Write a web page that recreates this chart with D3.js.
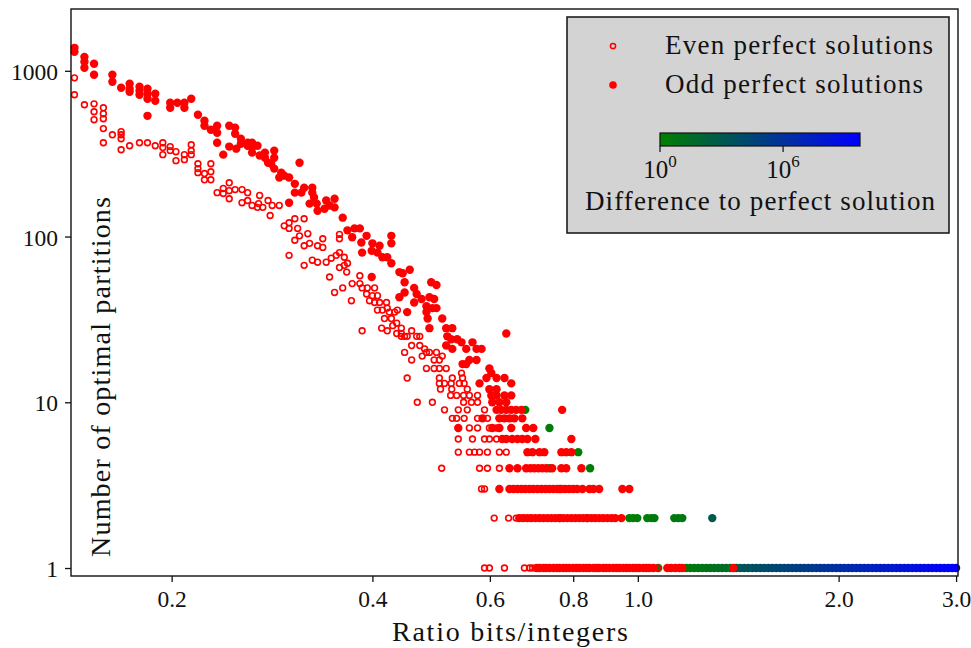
<!DOCTYPE html>
<html lang="en">
<head>
    <meta charset="UTF-8">
    <title>Optimal partitions</title>
    <script src="https://cdnjs.cloudflare.com/ajax/libs/d3/7.8.5/d3.min.js"></script>
    <style>
        body { margin: 0; background: #fff; }
        text { font-family: "Liberation Serif", "DejaVu Serif", serif; fill: #111; }
    </style>
</head>
<body>
    <svg width="971" height="648" id="mainsvg"></svg>
    <script>
        // ---- data ----
        const xTicks = [0.2, 0.4, 0.6, 0.8, 1.0, 2.0, 3.0];
        const yTicks = [1, 10, 100, 1000];
        const cbTicks = [1, 1e6];
        const colorMax = 5.6e9;

        // even perfect solutions: [ratio, count]
        const evenPts = [
            [0.143,907],[0.143,717],[0.148,624],[0.153,632],[0.153,566],[0.153,507],[0.158,598],[0.158,551],
            [0.158,514],[0.158,448],[0.158,368],[0.163,411],[0.168,429],[0.168,411],[0.168,389],[0.168,334],
            [0.173,353],[0.179,368],[0.184,368],[0.189,353],[0.194,368],[0.194,344],[0.194,312],[0.199,349],
            [0.199,330],[0.203,325],[0.203,287],[0.209,312],[0.209,291],[0.214,358],[0.214,330],[0.214,312],
            [0.219,275],[0.219,257],[0.219,243],[0.224,240],[0.224,220],[0.229,275],[0.229,246],[0.229,220],
            [0.234,184],[0.239,195],[0.239,182],[0.244,211],[0.244,189],[0.244,169],[0.249,192],[0.255,192],
            [0.260,184],[0.260,165],[0.271,177],[0.255,160],[0.279,165],[0.270,158],[0.264,154],[0.269,150],
            [0.274,150],[0.283,154],[0.290,154],[0.281,134],[0.295,116],[0.300,121],[0.306,128],[0.300,112],
            [0.309,112],[0.306,95],[0.316,128],[0.311,101],[0.320,104],[0.316,88],[0.322,91],[0.331,88],
            [0.337,97],[0.337,86],[0.300,77],[0.316,67],[0.325,72],[0.331,70],[0.341,70],[0.347,74],
            [0.353,77],[0.357,80],[0.363,75],[0.357,65],[0.363,67],[0.367,69],[0.366,61],[0.357,103],
            [0.357,97],[0.345,57],[0.383,58],[0.351,46],[0.361,49],[0.372,41],[0.373,52],[0.383,52],
            [0.386,49],[0.393,49],[0.403,49],[0.392,45],[0.400,44],[0.407,44],[0.396,41],[0.403,40],
            [0.410,40],[0.420,40],[0.421,37],[0.414,36],[0.424,35],[0.432,35],[0.436,36],[0.407,36],
            [0.417,32],[0.427,32],[0.435,30],[0.429,29],[0.442,28],[0.386,27],[0.413,28],[0.421,27],
            [0.435,26],[0.442,26],[0.442,25],[0.447,25],[0.458,27],[0.451,25],[0.466,25],[0.471,25],
            [0.458,22],[0.471,22],[0.479,21],[0.475,19],[0.482,20],[0.487,20],[0.499,20],[0.495,18],
            [0.504,18],[0.509,19],[0.447,20],[0.458,18],[0.451,14],[0.482,16],[0.495,16],[0.504,16],
            [0.516,16],[0.504,14],[0.527,14],[0.544,15],[0.546,14],[0.504,13],[0.513,13],[0.525,13],
            [0.540,13],[0.549,13],
            [0.506,12],[0.526,12],[0.555,12],
            [0.524,11],[0.535,11],[0.548,11],[0.559,11],[0.575,11],
            [0.467,10],[0.492,10],[0.548,10],[0.563,10],[0.575,10],
            [0.513,9],[0.538,9],[0.555,9],[0.589,9],
            [0.527,8],[0.535,8],[0.549,8],[0.575,8],[0.595,8],
            [0.559,7],[0.575,7],[0.599,7],[0.614,7],
            [0.538,6],[0.565,6],[0.589,6],[0.599,6],[0.614,6],
            [0.538,5],[0.559,5],[0.569,5],[0.579,5],[0.595,5],[0.620,5],[0.635,5],
            [0.508,4],[0.579,4],[0.595,4],[0.620,4],
            [0.583,3],[0.589,3],
            [0.609,2],[0.640,2],[0.657,2],[0.666,2],[0.676,2],[0.690,2],[0.712,2],
            [0.589,1],[0.599,1],[0.631,1],[0.676,1],[0.688,1],[0.695,1],[0.724,1],[0.752,1],[1.070,1]
        ];

        // odd perfect solutions: [ratio, count]
        const oddPts = [
            [0.143,1376],[0.143,1301],[0.148,1214],[0.148,1133],[0.148,1042],[0.153,1102],[0.153,946],[0.163,946],
            [0.163,859],[0.168,790],[0.173,835],[0.173,779],[0.173,747],[0.179,801],[0.179,758],[0.179,717],
            [0.184,779],[0.184,727],[0.184,678],[0.189,727],[0.189,660],[0.184,535],[0.199,641],[0.199,598],
            [0.204,641],[0.209,641],[0.209,598],[0.214,678],[0.219,543],[0.224,500],[0.224,466],[0.229,441],
            [0.234,466],[0.234,423],[0.234,368],[0.239,312],[0.244,466],[0.249,454],[0.249,417],[0.244,349],
            [0.250,339],[0.254,389],[0.254,363],[0.260,368],[0.260,353],[0.264,368],[0.264,344],[0.269,353],
            [0.264,321],[0.271,308],[0.276,321],[0.276,299],[0.279,279],[0.285,330],[0.285,299],[0.282,275],
            [0.311,279],[0.285,257],[0.292,243],[0.295,233],[0.290,227],[0.300,227],[0.306,208],[0.306,184],
            [0.316,197],[0.313,184],[0.325,197],[0.325,184],[0.300,160],[0.327,172],[0.330,158],[0.322,158],
            [0.341,165],[0.345,154],[0.351,169],[0.351,150],[0.331,143],[0.339,147],[0.361,130],[0.367,109],
            [0.376,112],[0.383,112],[0.373,99],[0.385,92],[0.392,101],[0.400,91],[0.410,88],[0.427,101],
            [0.427,91],[0.386,80],[0.399,82],[0.407,80],[0.414,75],[0.421,75],[0.427,69],[0.439,61],
            [0.444,60],[0.455,63],[0.399,57],[0.447,53],[0.462,49],[0.490,53],[0.499,51],[0.447,46],
            [0.439,43],[0.466,45],[0.474,42],[0.462,40],[0.487,43],[0.495,42],[0.482,38],[0.492,37],
            [0.499,37],[0.451,35],[0.482,35],[0.484,32],[0.509,32],[0.487,28],[0.516,28],[0.527,28],
            [0.518,25],[0.525,24],[0.536,24],[0.544,23],[0.516,22],[0.527,21],[0.553,21],[0.565,23],
            [0.573,21],[0.583,21],[0.559,18],[0.573,18],[0.546,17],[0.553,17],[0.599,16],[0.603,15],
            [0.593,14],[0.614,14],[0.579,13],[0.599,12],[0.614,12],[0.631,14],[0.646,13],[0.635,26],
            [0.603,11],[0.614,11],[0.631,11],[0.646,11],
            [0.605,10],[0.620,10],[0.635,10],
            [0.614,9],[0.624,9],[0.635,9],[0.646,9],[0.657,9],[0.669,9],[0.770,9],
            [0.585,8],[0.620,8],[0.631,8],[0.642,8],[0.653,8],[0.671,8],
            [0.538,7],[0.605,7],[0.620,7],[0.646,7],[0.680,7],[0.697,7],
            [0.626,6],[0.635,6],[0.648,6],[0.660,6],[0.671,6],[0.683,6],[0.702,6],[0.795,6],
            [0.683,5],[0.695,5],[0.712,5],[0.724,5],[0.768,5],[0.781,5],[0.795,5],
            [0.642,4],[0.660,4],[0.680,4],[0.690,4],[0.699,4],[0.709,4],[0.719,4],[0.729,4],[0.744,4],
            [0.768,4],[0.781,4],[0.823,4],
            [0.620,3],[0.642,3],[0.651,3],[0.660,3],[0.669,3],[0.678,3],[0.688,3],[0.697,3],[0.707,3],
            [0.717,3],[0.727,3],[0.737,3],[0.747,3],[0.757,3],[0.768,3],[0.778,3],[0.789,3],[0.800,3],
            [0.811,3],[0.826,3],[0.846,3],[0.858,3],[0.875,3],[0.948,3],[0.971,3],
            [0.664,2],[0.673,2],[0.683,2],[0.692,2],[0.702,2],[0.712,2],[0.722,2],[0.732,2],[0.742,2],
            [0.752,2],[0.763,2],[0.773,2],[0.784,2],[0.795,2],[0.806,2],[0.817,2],[0.828,2],[0.840,2],
            [0.852,2],[0.863,2],[0.875,2],[0.887,2],[0.900,2],[0.913,2],[0.925,2],[0.945,2],
            [0.705,1],[0.712,1],[0.722,1],[0.729,1],[0.737,1],[0.747,1],[0.756,1],[0.763,1],[0.773,1],
            [0.781,1],[0.789,1],[0.800,1],[0.809,1],[0.817,1],[0.828,1],[0.837,1],[0.846,1],[0.858,1],
            [0.867,1],[0.875,1],[0.887,1],[0.896,1],[0.906,1],[0.919,1],[0.929,1],[0.938,1],[0.951,1],
            [0.961,1],[0.971,1],[0.984,1],[0.995,1],[1.005,1],[1.019,1],[1.030,1],[1.041,1],[1.055,1],
            [1.107,1],[1.122,1],[1.138,1],[1.154,1],[1.166,1],[1.390,1]
        ];

        // odd, not perfect: [ratio, count, difference to perfect solution]
        const offPts = [
            [0.678,9,1],[0.737,7,2],[0.814,5,1],[0.737,4,1],[0.848,4,2],[0.763,3,1],
            [0.763,2,1],[0.840,2,1],[0.971,2,1],[0.984,2,1],[0.998,2,2],[1.033,2,2],[1.048,2,2],
            [1.059,2,3],[1.134,2,3],[1.150,2,4],[1.166,2,4],[1.293,2,1000],
            [1.073,1,1],[1.182,1,2],[1.198,1,3],[1.215,1,4],[1.232,1,5],[1.249,1,6],[1.267,1,8],
            [1.284,1,10],[1.302,1,12],[1.320,1,15],[1.338,1,20],[1.357,1,25],[1.376,1,30],
            [1.405,1,1.3e3],[1.424,1,1.7e3],[1.444,1,2.2e3],[1.464,1,2.9e3],[1.485,1,3.8e3],[1.505,1,5.1e3],
            [1.526,1,6.8e3],[1.547,1,8.9e3],[1.569,1,1.2e4],[1.591,1,1.5e4],[1.613,1,2.0e4],[1.635,1,2.7e4],
            [1.658,1,3.6e4],[1.681,1,4.7e4],[1.704,1,6.2e4],[1.728,1,8.3e4],[1.752,1,1.1e5],[1.776,1,1.4e5],
            [1.801,1,1.9e5],[1.826,1,2.5e5],[1.852,1,3.3e5],[1.877,1,4.4e5],[1.903,1,5.8e5],[1.930,1,7.6e5],
            [1.957,1,1.0e6],[1.984,1,1.3e6],[2.011,1,1.8e6],[2.039,1,2.3e6],[2.068,1,3.1e6],[2.096,1,4.1e6],
            [2.125,1,5.4e6],[2.155,1,7.1e6],[2.185,1,9.4e6],[2.216,1,1.2e7],[2.247,1,1.6e7],[2.278,1,2.2e7],
            [2.309,1,2.9e7],[2.341,1,3.8e7],[2.374,1,5.0e7],[2.407,1,6.6e7],[2.441,1,8.7e7],[2.474,1,1.1e8],
            [2.509,1,1.5e8],[2.544,1,2.0e8],[2.579,1,2.6e8],[2.615,1,3.5e8],[2.651,1,4.7e8],[2.688,1,6.1e8],
            [2.726,1,8.1e8],[2.764,1,1.1e9],[2.802,1,1.4e9],[2.840,1,1.9e9],[2.880,1,2.5e9],[2.920,1,3.2e9],
            [2.960,1,4.3e9],[3.000,1,5.6e9]
        ];

        // ---- layout ----
        const svg = d3.select('#mainsvg');
        const width = +svg.attr('width');
        const height = +svg.attr('height');
        const margin = { top: 9, right: 13, bottom: 72, left: 71 };
        const innerWidth = width - margin.left - margin.right;
        const innerHeight = height - margin.top - margin.bottom;
        const g = svg.append('g')
            .attr('transform', `translate(${margin.left},${margin.top})`);

        const x = d3.scaleLog().domain([0.1413, 3.02]).range([0, innerWidth]);
        const y = d3.scaleLog().domain([0.895, 2360]).range([innerHeight, 0]);
        const color = d3.scaleLog().domain([1, colorMax])
            .range(['#008000', '#0000ff']).interpolate(d3.interpolateRgb);

        const RED = '#ff0000';

        // ---- points ----
        const pts = g.append('g');
        pts.selectAll('.off').data(offPts).join('circle')
            .attr('class', 'off')
            .attr('cx', d => x(d[0])).attr('cy', d => y(d[1]))
            .attr('r', 4.2)
            .attr('fill', d => color(d[2]));

        pts.selectAll('.odd').data(oddPts).join('circle')
            .attr('class', 'odd')
            .attr('cx', d => x(d[0])).attr('cy', d => y(d[1]))
            .attr('r', 4.2)
            .attr('fill', RED);

        pts.selectAll('.even').data(evenPts).join('circle')
            .attr('class', 'even')
            .attr('cx', d => x(d[0])).attr('cy', d => y(d[1]))
            .attr('r', 2.9)
            .attr('fill', 'none')
            .attr('stroke', RED)
            .attr('stroke-width', 1.6);

        // ---- axes ----
        const xAxis = d3.axisBottom(x).tickValues(xTicks)
            .tickFormat(d3.format('.1f')).tickSize(6).tickPadding(8);
        const yAxis = d3.axisLeft(y).tickValues(yTicks)
            .tickFormat(d3.format('d')).tickSize(6).tickPadding(7);

        const gx = g.append('g').attr('transform', `translate(0,${innerHeight})`).call(xAxis);
        const gy = g.append('g').call(yAxis);
        [gx, gy].forEach(a => {
            a.select('.domain').remove();
            a.selectAll('.tick line').attr('stroke', '#111').attr('stroke-width', 1.3);
            a.selectAll('.tick text').attr('font-size', 23.5)
                .attr('font-family', '"Liberation Serif", serif').attr('fill', '#111');
        });
        gy.selectAll('.tick text').attr('dy', '0.36em');

        g.append('rect')
            .attr('width', innerWidth).attr('height', innerHeight)
            .attr('fill', 'none').attr('stroke', '#111').attr('stroke-width', 1.4);

        // axis labels
        svg.append('text')
            .attr('x', 510).attr('y', 641)
            .attr('text-anchor', 'middle')
            .attr('font-size', 28)
            .attr('textLength', 236).attr('lengthAdjust', 'spacing')
            .text('Ratio bits/integers');

        svg.append('text')
            .attr('transform', 'translate(110,557) rotate(-90)')
            .attr('font-size', 28)
            .attr('textLength', 360).attr('lengthAdjust', 'spacing')
            .text('Number of optimal partitions');

        // ---- legend ----
        const lg = svg.append('g');
        lg.append('rect')
            .attr('x', 567).attr('y', 17).attr('width', 382).attr('height', 216)
            .attr('fill', '#d3d3d3').attr('stroke', '#111').attr('stroke-width', 1.5);

        lg.append('circle').attr('cx', 613).attr('cy', 46).attr('r', 2.6)
            .attr('fill', 'none').attr('stroke', RED).attr('stroke-width', 1.5);
        lg.append('circle').attr('cx', 613).attr('cy', 85).attr('r', 3.8).attr('fill', RED);

        lg.append('text').attr('x', 665).attr('y', 54).attr('font-size', 27)
            .attr('textLength', 268).attr('lengthAdjust', 'spacing')
            .text('Even perfect solutions');
        lg.append('text').attr('x', 665).attr('y', 93).attr('font-size', 27)
            .attr('textLength', 258).attr('lengthAdjust', 'spacing')
            .text('Odd perfect solutions');

        // colorbar
        const cb = d3.scaleLog().domain([1, colorMax]).range([660, 860]);
        const grad = svg.append('defs').append('linearGradient').attr('id', 'cbgrad');
        grad.append('stop').attr('offset', '0%').attr('stop-color', color(1));
        grad.append('stop').attr('offset', '100%').attr('stop-color', color(colorMax));
        lg.append('rect')
            .attr('x', cb(1)).attr('y', 133).attr('width', cb(colorMax) - cb(1)).attr('height', 13)
            .attr('fill', 'url(#cbgrad)').attr('stroke', '#111').attr('stroke-width', 1.2);

        const cbt = lg.selectAll('.cbt').data(cbTicks).join('g')
            .attr('class', 'cbt')
            .attr('transform', d => `translate(${cb(d)},146)`);
        cbt.append('line').attr('y2', 6).attr('stroke', '#111').attr('stroke-width', 1.2);
        const cbl = cbt.append('text').attr('y', 32).attr('text-anchor', 'middle').attr('font-size', 25);
        cbl.append('tspan').text('10');
        cbl.append('tspan').attr('dy', -11).attr('font-size', 17)
            .text(d => Math.round(Math.log10(d)));

        lg.append('text').attr('x', 760).attr('y', 210).attr('text-anchor', 'middle')
            .attr('font-size', 27)
            .attr('textLength', 350).attr('lengthAdjust', 'spacing')
            .text('Difference to perfect solution');
    </script>
</body>
</html>
